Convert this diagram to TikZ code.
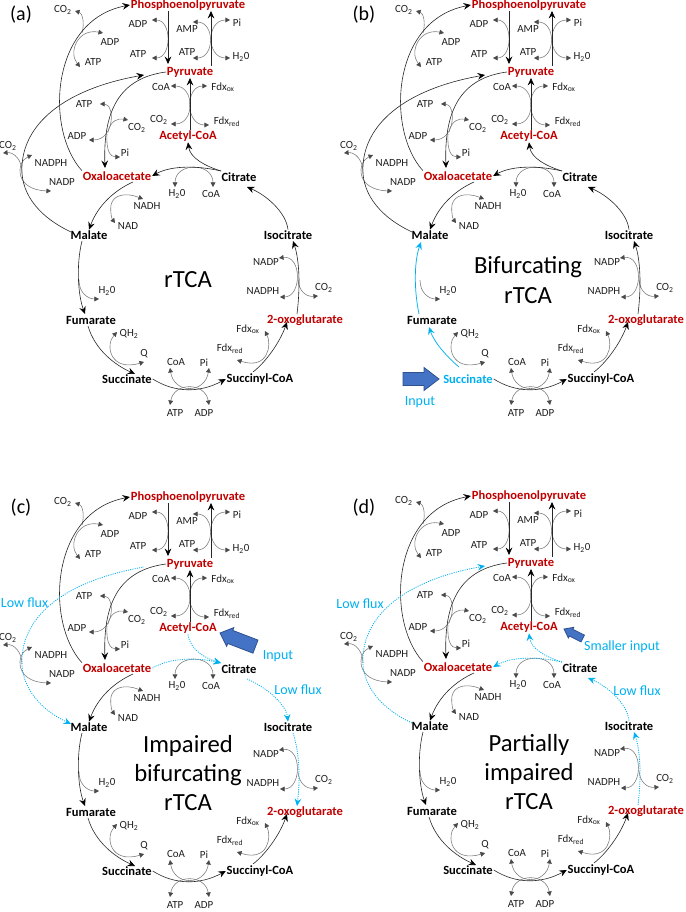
\documentclass[tikz,border=0pt]{standalone}
\usepackage{fontspec}
\setmainfont{Carlito}
\usetikzlibrary{arrows.meta}
\definecolor{metred}{HTML}{C00000}
\definecolor{fluxblue}{HTML}{00B0F0}
\definecolor{arrfill}{HTML}{4472C4}
\definecolor{arrline}{HTML}{2F528F}
\definecolor{sidegrey}{HTML}{7A7A7A}
\definecolor{tipgrey}{HTML}{4A4A4A}
\tikzset{
  met/.style={font=\fontsize{9.4}{11}\selectfont\bfseries, inner sep=0.5pt},
  redmet/.style={met, text=metred},
  lab/.style={font=\fontsize{8.2}{9}\selectfont, inner sep=0.5pt, text=black!88},
  mainline/.style={line width=0.45pt, draw=black!85},
  main/.style={mainline, -{Stealth[length=5.6pt,width=5pt,inset=2pt,color=black]}},
  side/.style={line width=0.42pt, draw=sidegrey, {Triangle[length=3.4pt,width=3.6pt,color=tipgrey]}-{Triangle[length=3.4pt,width=3.6pt,color=tipgrey]}},
  sideone/.style={line width=0.42pt, draw=sidegrey, -{Triangle[length=3.4pt,width=3.6pt,color=tipgrey]}},
  fluxline/.style={line width=0.6pt, draw=fluxblue, dash pattern=on 0.8pt off 0.9pt},
  flux/.style={fluxline, -{Stealth[length=5.6pt,width=5pt,inset=2pt,color=fluxblue]}},
  fluxrev/.style={fluxline, {Stealth[length=5.6pt,width=5pt,inset=2pt,color=fluxblue]}-},
  fluxsolid/.style={line width=0.55pt, draw=fluxblue, -{Stealth[length=5.6pt,width=5pt,inset=2pt,color=fluxblue]}},
  bluetext/.style={font=\fontsize{10.5}{12}\selectfont, text=fluxblue, inner sep=0.5pt},
  titletext/.style={font=\fontsize{18.5}{22}\selectfont, align=center, inner sep=0pt},
  panellab/.style={font=\fontsize{15}{18}\selectfont, inner sep=0pt},
  blockarrow/.style={fill=arrfill, draw=arrline, line width=0.6pt, line join=miter}
}
\newcommand\rtcabase[2]{%
\node[redmet] (#1pep) at (188,5) {Phosphoenolpyruvate};
\node[redmet] (#1pyr) at (190,72) {Pyruvate};
\node[redmet] (#1acc) at (188,136) {Acetyl-CoA};
\node[redmet] (#1oaa) at (117,176) {Oxaloacetate};
\node[met] (#1cit) at (239,177) {Citrate};
\node[met] (#1mal) at (89,235) {Malate};
\node[met] (#1iso) at (288,235) {Isocitrate};
\node[met] (#1fum) at (91,320) {Fumarate};
\node[redmet] (#1og) at (305,320) {2-oxoglutarate};
\node[met,text=#2] (#1suc) at (127,379) {Succinate};
\node[met] (#1scc) at (260,379) {Succinyl-CoA};
\coordinate (#1pepL) at (168,11);
\coordinate (#1pyrL) at (168,64);
\coordinate (#1pyrR) at (211,66);
\coordinate (#1pepR) at (211,11);
\coordinate (#1accT) at (190,130);
\coordinate (#1pyrB) at (190,78);
\coordinate (#1oaaT) at (105,168);
\coordinate (#1oaaB) at (133,182);
\coordinate (#1pyrIn) at (144,75);
\coordinate (#1malL) at (71,232);
\coordinate (#1malB) at (82,241);
\coordinate (#1fumT) at (85,314);
\coordinate (#1fumB) at (88,326);
\coordinate (#1sucT) at (135,374);
\coordinate (#1sccT) at (253,372);
\coordinate (#1ogL) at (287,322);
\coordinate (#1ogT) at (297,314);
\coordinate (#1isoB) at (293,241);
\coordinate (#1citB) at (247,187);
\coordinate (#1citL) at (221,171);
% side labels
\node[lab] (#1s01) at (63,10) {CO\textsubscript{2}};
\node[lab] (#1s02) at (110,42) {ADP};
\node[lab] (#1s03) at (93,62) {ATP};
\node[lab] (#1s04) at (138,24) {ADP};
\node[lab] (#1s05) at (138,54) {ATP};
\node[lab] (#1s06) at (187,29) {AMP};
\node[lab] (#1s07) at (187,52) {ATP};
\node[lab] (#1s08) at (237,23) {Pi};
\node[lab] (#1s09) at (241,57) {H\textsubscript{2}0};
\node[lab] (#1s10) at (161,87) {CoA};
\node[lab] (#1s11) at (223,87) {Fdx\textsubscript{ox}};
\node[lab] (#1s12) at (159,120) {CO\textsubscript{2}};
\node[lab] (#1s13) at (227,122) {Fdx\textsubscript{red}};
\node[lab] (#1s14) at (84,104) {ATP};
\node[lab] (#1s15) at (137,128) {CO\textsubscript{2}};
\node[lab] (#1s16) at (77,136) {ADP};
\node[lab] (#1s17) at (125,153) {Pi};
\node[lab] (#1s18) at (8,146) {CO\textsubscript{2}};
\node[lab] (#1s19) at (51,163) {NADPH};
\node[lab] (#1s20) at (62,182) {NADP};
\node[lab] (#1s21) at (177,194) {H\textsubscript{2}0};
\node[lab] (#1s22) at (211,194) {CoA};
\node[lab] (#1s23) at (147,206) {NADH};
\node[lab] (#1s24) at (128,226) {NAD};
\node[lab] (#1s25) at (266,262) {NADP};
\node[lab] (#1s26) at (263,291) {NADPH};
\node[lab] (#1s27) at (324,288) {CO\textsubscript{2}};
\node[lab] (#1s28) at (107,291) {H\textsubscript{2}0};
\node[lab] (#1s29) at (129,334) {QH\textsubscript{2}};
\node[lab] (#1s30) at (144,354) {Q};
\node[lab] (#1s31) at (176,362) {CoA};
\node[lab] (#1s32) at (204,363) {Pi};
\node[lab] (#1s33) at (248,329) {Fdx\textsubscript{ox}};
\node[lab] (#1s34) at (230,349) {Fdx\textsubscript{red}};
\node[lab] (#1s35) at (175,413) {ATP};
\node[lab] (#1s36) at (204,413) {ADP};
% side arcs
\draw[sideone] (82,33) .. controls (85,22) and (82,13) .. (75,11);
\draw[side] (103,33) .. controls (78,28) and (68,52) .. (80,67);
\draw[side] (152,20) .. controls (172,20) and (172,58) .. (152,58);
\draw[side] (193,22) .. controls (215,22) and (215,58) .. (193,58);
\draw[side] (230,20) .. controls (206,20) and (206,58) .. (230,58);
\draw[side] (171,86) .. controls (195,86) and (195,124) .. (171,124);
\draw[side] (207,86) .. controls (185,86) and (185,125) .. (209,125);
\draw[side] (100,104) .. controls (115,104) and (115,140) .. (89,140);
\draw[sideone] (108,132) .. controls (110,121) and (118,118) .. (128,120);
\draw[sideone] (107,134) .. controls (106,150) and (110,157) .. (120,157);
\draw[sideone] (22,172) .. controls (22,160) and (14,152) .. (3,153);
\draw[side] (32,155) .. controls (16,162) and (14,190) .. (51,191);
\draw[side] (175,187) .. controls (175,162) and (213,162) .. (213,187);
\draw[side] (143,199) .. controls (125,192) and (113,195) .. (111,205) .. controls (110,213) and (112,219) .. (115,223);
\draw[sideone] (79,280) .. controls (79,293) and (88,299) .. (99,299);
\draw[side] (279,258) .. controls (302,255) and (302,297) .. (280,297);
\draw[sideone] (298,280) .. controls (299,291) and (306,297) .. (318,296);
\draw[side] (117,332) .. controls (105,345) and (110,372) .. (144,362);
\draw[side] (265,331) .. controls (272,345) and (268,370) .. (237,360);
\draw[side] (170,368) .. controls (174,394) and (205,394) .. (209,368);
\draw[side] (170,405) .. controls (174,382) and (205,382) .. (209,405);
% common main arrows
\draw[main] (#1suc.east) .. controls (175,393) and (200,393) .. (#1scc.west);
\draw[main] (#1sccT) .. controls (266,362) and (280,342) .. (#1ogL);
\draw[main] (#1accT) -- (#1pyrB);
\draw[main] (#1pepL) -- (#1pyrL);
\draw[main] (#1pyrR) -- (#1pepR);
\draw[main] (#1oaa.north west) .. controls (45,130) and (50,20) .. (#1pep.west);
\draw[main] (#1pyr.west) .. controls (120,78) and (103,110) .. (#1oaaT);
\draw[main] (#1oaaB) .. controls (115,190) and (98,205) .. (#1mal.north);
}
\newcommand\malfum[1]{\draw[main] (#1malB) .. controls (76,265) and (78,295) .. (#1fumT);}
\newcommand\fumsuc[1]{\draw[main] (#1fumB) .. controls (95,350) and (115,365) .. (#1sucT);}
\newcommand\ogiso[2]{\draw[#2] (#1ogT) .. controls (300,290) and (300,262) .. (#1isoB);}
\newcommand\isocit[2]{\draw[#2] (#1iso.north) .. controls (286,212) and (266,195) .. (#1citB);}
\newcommand\citacc[2]{\draw[#2] (#1citL) .. controls (205,166) and (190,158) .. (#1acc.south);}
\newcommand\citoaa[2]{\draw[#2] (#1citL) .. controls (195,165) and (170,166) .. (#1oaa.east);}
\newcommand\malpyr[2]{\draw[#2] (#1malL) .. controls (35,215) and (20,190) .. (22,165) .. controls (25,120) and (70,88) .. (#1pyrIn);}
\begin{document}
\begin{tikzpicture}[x=0.75pt,y=-0.75pt]
\useasboundingbox (0,0) rectangle (685,912);
% ---------- (a)
\begin{scope}
\rtcabase{a}{black}
\malfum{a} \fumsuc{a}
\ogiso{a}{main} \isocit{a}{main} \citacc{a}{main} \citoaa{a}{main} \malpyr{a}{main}
\node[panellab] (alab) at (21,15) {(a)};
\node[titletext] (atitle) at (188,280) {rTCA};
\end{scope}
% ---------- (b)
\begin{scope}[shift={(341,0)}]
\rtcabase{b}{fluxblue}
\ogiso{b}{main} \isocit{b}{main} \citacc{b}{main} \citoaa{b}{main} \malpyr{b}{main}
\coordinate (bsucS) at (118,367);
\coordinate (bfumIn) at (88,327);
\coordinate (bfumS) at (78,314);
\coordinate (bmalIn) at (80,242);
\draw[fluxsolid] (bsucS) .. controls (105,356) and (93,342) .. (bfumIn);
\draw[fluxsolid] (bfumS) .. controls (73,290) and (73,262) .. (bmalIn);
\draw[blockarrow, shift={(98,379)}] (0,0) -- (-15,-11.5) -- (-15,-6.5) -- (-36,-6.5) -- (-36,6.5) -- (-15,6.5) -- (-15,11.5) -- cycle;
\node[bluetext] (binput) at (79,402) {Input};
\node[panellab] (blab) at (23,15) {(b)};
\node[titletext] (btitle) at (187,280) {Bifurcating\\rTCA};
\end{scope}
% ---------- (c)
\begin{scope}[shift={(0,492)}]
\rtcabase{c}{black}
\malfum{c} \fumsuc{c}
\ogiso{c}{fluxrev} \isocit{c}{fluxrev} \citacc{c}{fluxrev} \citoaa{c}{fluxrev} \malpyr{c}{fluxrev}
\draw[blockarrow, shift={(220,141)}, rotate=159] (0,0) -- (-11,-10) -- (-11,-7) -- (-38,-7) -- (-38,7) -- (-11,7) -- (-11,10) -- cycle;
\node[bluetext] (cinput) at (278,164) {Input};
\node[bluetext, anchor=west] (clow1) at (0,111) {Low flux};
\node[bluetext] (clow2) at (298,198) {Low flux};
\node[panellab] (clab) at (21,16) {(c)};
\node[titletext] (ctitle) at (188,281) {Impaired\\bifurcating\\rTCA};
\end{scope}
% ---------- (d)
\begin{scope}[shift={(341,491)}]
\rtcabase{d}{black}
\malfum{d} \fumsuc{d}
\ogiso{d}{flux} \isocit{d}{flux} \citacc{d}{flux} \citoaa{d}{flux} \malpyr{d}{flux}
\draw[blockarrow, shift={(223,138)}, rotate=153] (0,0) -- (-8,-6) -- (-8,-3.8) -- (-21,-3.8) -- (-21,3.8) -- (-8,3.8) -- (-8,6) -- cycle;
\node[bluetext] (dinput) at (281,156) {Smaller input};
\node[bluetext] (dlow1) at (19,113) {Low flux};
\node[bluetext] (dlow2) at (296,200) {Low flux};
\node[panellab] (dlab) at (23,17) {(d)};
\node[titletext] (dtitle) at (188,281) {Partially\\impaired\\rTCA};
\end{scope}
\end{tikzpicture}
\end{document}
